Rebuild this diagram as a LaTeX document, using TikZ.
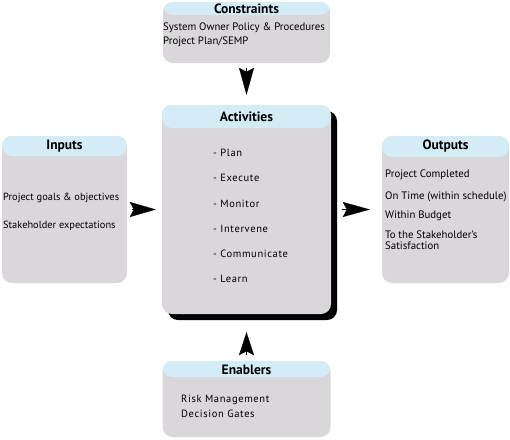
\documentclass[tikz,border=0pt]{standalone}
\usepackage{fontspec}
\setmainfont{PT Sans}
\newfontfamily\spacedfont[LetterSpace=6.0]{PT Sans}
\usetikzlibrary{arrows.meta,shadows}
\definecolor{headblue}{HTML}{D4ECF5}
\definecolor{bodygray}{HTML}{D9D7D9}
\begin{document}
\begin{tikzpicture}[x=1pt,y=-1pt,
  box/.style={draw=none, fill=bodygray, rounded corners=10pt, inner sep=0pt,
    path picture={\fill[headblue] ([yshift=1pt]path picture bounding box.north west) rectangle ([yshift=-#1]path picture bounding box.north east);}},
  title/.style={font=\bfseries\fontsize{13.5}{15}\selectfont, inner sep=0pt},
  txt/.style={font=\fontsize{#1}{12}\selectfont, inner sep=0pt, anchor=west},
  stxt/.style={font=\spacedfont\fontsize{10.5}{12}\selectfont, inner sep=0pt, anchor=west},
  tip/.style={-{Stealth[length=#1,width=15pt,inset=4pt]}, line width=0.2pt, draw=black}]
\useasboundingbox (0,0) rectangle (510,439);
% boxes
\node[box=13pt, minimum width=167pt, minimum height=61pt] (con) at (246.5,32.5) {};
\node[box=20pt, minimum width=125pt, minimum height=147pt] (inp) at (64.5,209.5) {};
\node[box=23pt, minimum width=169pt, minimum height=209pt,
  drop shadow={shadow xshift=6pt, shadow yshift=-6pt, fill=black, opacity=1}] (act) at (246.5,209.5) {};
\node[box=21pt, minimum width=127pt, minimum height=147pt] (out) at (445.5,209.5) {};
\node[box=16pt, minimum width=168pt, minimum height=76pt] (ena) at (246.5,399) {};
% titles
\node[title] (conT) at (246.5,8.5) {Constraints};
\node[title] (inpT) at (64.5,146.5) {Inputs};
\node[title] (actT) at (246.5,116.5) {Activities};
\node[title] (outT) at (445.5,146.5) {Outputs};
\node[title] (enaT) at (246.5,369.5) {Enablers};
% texts
\node[txt=10.8] (con1) at (163,28) {System Owner Policy \& Procedures};
\node[txt=10.8] (con2) at (163,42) {Project Plan/SEMP};
\node[txt=10.4] (inp1) at (3,198) {Project goals \& objectives};
\node[txt=10.4] (inp2) at (3,226) {Stakeholder expectations};
\node[stxt] (act1) at (213,153) {- Plan};
\node[stxt] (act2) at (213,178) {- Execute};
\node[stxt] (act3) at (213,203.4) {- Monitor};
\node[stxt] (act4) at (213,228.6) {- Intervene};
\node[stxt] (act5) at (213,253.8) {- Communicate};
\node[stxt] (act6) at (213,279) {- Learn};
\node[txt=10.8] (out1) at (385,175) {Project Completed};
\node[txt=10.8] (out2) at (385,197) {On Time (within schedule)};
\node[txt=10.8] (out3) at (385,216) {Within Budget};
\node[txt=10.8] (out4) at (385,234.5) {To the Stakeholder’s};
\node[txt=10.8] (out5) at (385,246) {Satisfaction};
\node[stxt] (ena1) at (181,400) {Risk Management};
\node[stxt] (ena2) at (181,414) {Decision Gates};
% arrows
\draw[tip=27pt, shorten <=5pt, shorten >=10pt] (con) -- (act);
\draw[tip=26pt, shorten <=5pt, shorten >=6pt] (inp) -- (act);
\draw[tip=27pt, shorten <=11pt, shorten >=12pt] (act) -- (out);
\draw[tip=23pt, shorten <=6pt, shorten >=18pt] (ena) -- (act);
\end{tikzpicture}
\end{document}
